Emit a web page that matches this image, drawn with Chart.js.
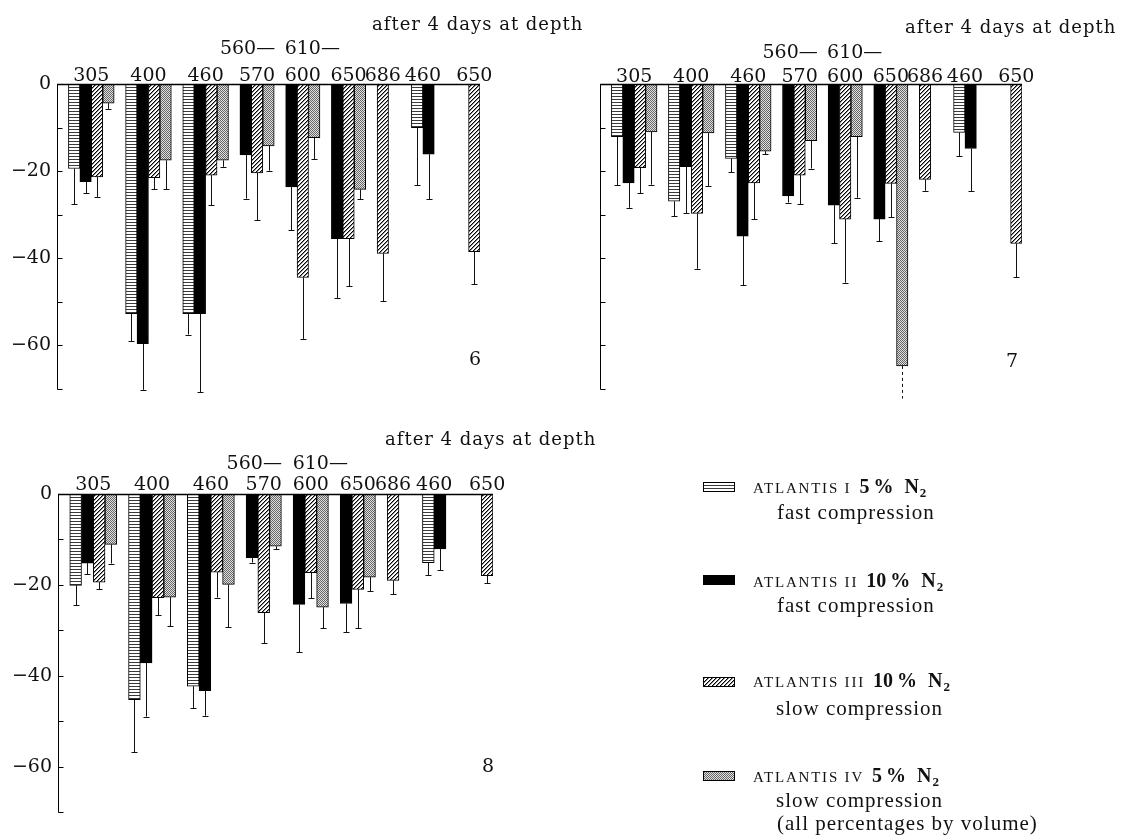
<!DOCTYPE html>
<html><head><meta charset="utf-8">
<script src="https://cdn.jsdelivr.net/npm/chart.js@4.4.1/dist/chart.umd.min.js"></script>
<style>
html,body{margin:0;padding:0;background:#fff;}
body{width:1124px;height:838px;position:relative;overflow:hidden;}
canvas{position:absolute;}
</style></head><body>
<canvas id="c6" width="590" height="400" style="left:0;top:0;width:590px;height:400px"></canvas>
<canvas id="c7" width="534" height="400" style="left:590px;top:0;width:534px;height:400px"></canvas>
<canvas id="c8" width="1124" height="428" style="left:0;top:410px;width:1124px;height:428px"></canvas>
<script>
// ---------- DATA ----------
const depthLabels = ['305','400','460','570','600','650','686','460','650'];
const rangeLabels = ['','','','560\u2014','610\u2014','','','',''];
const seriesNames = ['ATLANTIS I','ATLANTIS II','ATLANTIS III','ATLANTIS IV'];
const seriesGas   = ['5\u2009%','10\u2009%','10\u2009%','5\u2009%'];
const seriesMode  = ['fast compression','fast compression','slow compression','slow compression'];
const footnote = '(all percentages by volume)';
const captionText = 'after 4 days at depth';
const panelNumbers = ['6','7','8'];
const yTickValues = [0,-20,-40,-60];
const yTickLabels = ['0','\u221220','\u221240','\u221260'];

// Figure 6
const fig6_I     = [-19.4,-52.7,-52.7,null,null,null,null,-10.0,null];
const fig6_I_sd  = [8.2,6.3,4.8,null,null,null,null,13.2,null];
const fig6_II    = [-22.4,-59.6,-52.7,-16.3,-23.6,-35.5,null,-16.1,null];
const fig6_II_sd = [2.6,10.6,18.0,10.0,10.0,13.6,null,10.3,null];
const fig6_III   = [-21.3,-21.5,-20.9,-20.4,-44.4,-35.5,-38.9,null,-38.5];
const fig6_III_sd= [4.6,2.6,6.9,10.9,14.1,10.9,11.0,null,7.5];
const fig6_IV    = [-4.4,-17.5,-17.5,-14.2,-12.3,-24.2,null,null,null];
const fig6_IV_sd = [1.3,6.7,1.5,5.7,4.9,2.3,null,null,null];
// Figure 7
const fig7_I     = [-12.1,-26.9,-17.1,null,null,null,null,-11.1,null];
const fig7_I_sd  = [11.1,3.4,3.2,null,null,null,null,5.5,null];
const fig7_II    = [-22.7,-19.0,-34.9,-25.7,-27.8,-31.0,null,-14.8,null];
const fig7_II_sd = [5.7,10.7,11.3,1.5,8.7,5.1,null,9.8,null];
const fig7_III   = [-19.2,-29.7,-22.7,-20.9,-31.0,-22.8,-21.9,null,-36.6];
const fig7_III_sd= [5.9,12.7,8.3,6.7,14.6,7.8,2.6,null,7.8];
const fig7_IV    = [-11.0,-11.2,-15.4,-13.0,-12.1,-64.7,null,null,null];
const fig7_IV_sd = [12.1,12.2,0.7,6.4,14.0,7.5,null,null,null];
const fig7_offscale = [[3,5]]; // [series, group] whose error bar runs off the scale (dashed)
// Figure 8
const fig8_I     = [-20.1,-45.3,-42.3,null,null,null,null,-15.1,null];
const fig8_I_sd  = [4.4,11.6,4.8,null,null,null,null,2.8,null];
const fig8_II    = [-15.2,-37.2,-43.3,-14.0,-24.3,-24.1,null,-12.1,null];
const fig8_II_sd = [2.5,11.8,5.5,1.1,10.5,6.3,null,4.7,null];
const fig8_III   = [-19.4,-22.8,-17.2,-26.1,-17.3,-21.0,-19.0,null,-18.0];
const fig8_III_sd= [1.6,3.9,5.6,6.7,5.6,8.6,3.1,null,1.7];
const fig8_IV    = [-11.1,-22.7,-19.9,-11.5,-24.9,-18.3,null,null,null];
const fig8_IV_sd = [4.2,6.4,9.4,0.7,4.7,3.1,null,null,null];

// ---------- STYLE / LAYOUT ----------
const slotGapBefore = [1,1,1,1,1,1,1,2,3];
const rangeAlign = ['','','','right','left','','','',''];
const SERIF = '"DejaVu Serif"';
const LSERIF = '"Liberation Serif"';

function makePattern(kind){
  const c=document.createElement('canvas'); const g=c.getContext('2d');
  if(kind==='h'){ c.width=4;c.height=3; g.fillStyle='#fff';g.fillRect(0,0,4,3); g.fillStyle='#3a3a3a';g.fillRect(0,0,4,1); }
  else if(kind==='d'){ c.width=4;c.height=4; g.fillStyle='#fff';g.fillRect(0,0,4,4);
    for(let i=0;i<4;i++){ g.fillStyle='#000'; g.fillRect(i,3-i,1,1); g.fillStyle='#888'; g.fillRect((i+1)%4,3-i,1,1);} }
  else { c.width=2;c.height=2; g.fillStyle='#e0e0e0';g.fillRect(0,0,2,2); g.fillStyle='#666'; g.fillRect(0,0,1,1); g.fillRect(1,1,1,1); }
  return document.createElement('canvas').getContext('2d').createPattern(c,'repeat');
}
const fills = [makePattern('h'), '#000', makePattern('d'), makePattern('s')];

function buildPanel(series, sds){
  const labels=[], data=[[],[],[],[]], errs=[[],[],[],[]], groups=[];
  function pushSlot(s,v,e){ labels.push(String(labels.length));
    for(let k=0;k<4;k++){ data[k].push(k===s?v:null); errs[k].push(k===s?e:null); } }
  depthLabels.forEach((lab,g)=>{
    for(let k=0;k<slotGapBefore[g];k++) pushSlot(-1,null,null);
    const first=labels.length; const slotOf={};
    for(let s=0;s<4;s++){ if(series[s][g]!==null){ slotOf[s]=labels.length; pushSlot(s,series[s][g],sds[s][g]); } }
    groups.push({first,last:labels.length-1,slotOf});
  });
  return {labels,data,errs,groups};
}

function decor(p,cfg){
  return { id:'decor_'+cfg.id, afterDraw(chart){
    const ctx=chart.ctx, a=chart.chartArea, x=chart.scales.x, y=chart.scales.y;
    ctx.save();
    ctx.strokeStyle='#000'; ctx.lineWidth=1;
    const lx=Math.round(a.left)+0.5;
    const y0=Math.round(y.getPixelForValue(0))+0.5;
    // zero line & axis
    ctx.lineWidth=1.6;
    ctx.beginPath(); ctx.moveTo(lx-0.5,y0); ctx.lineTo(Math.round(a.right),y0); ctx.stroke();
    ctx.lineWidth=1;
    ctx.beginPath(); ctx.moveTo(lx,y0); ctx.lineTo(lx,Math.round(y.getPixelForValue(-70))+0.5); ctx.stroke();
    for(let v=-10; v>=-70; v-=10){ const ty=Math.round(y.getPixelForValue(v))+0.5;
      ctx.beginPath(); ctx.moveTo(lx,ty); ctx.lineTo(lx+5,ty); ctx.stroke(); }
    // error bars
    ctx.strokeStyle='#111';
    for(let s=0;s<4;s++){
      p.data[s].forEach((v,i)=>{
        const e=p.errs[s][i]; if(v===null||e===null) return;
        const cx=Math.round(x.getPixelForValue(i))+0.5;
        const t=y.getPixelForValue(v), b=y.getPixelForValue(v-e);
        const grp=p.groups.findIndex(G=>G.slotOf[s]===i);
        const dashed=(cfg.offscale||[]).some(o=>o[0]===s&&o[1]===grp);
        ctx.setLineDash(dashed?[3,3]:[]);
        ctx.beginPath(); ctx.moveTo(cx,t); ctx.lineTo(cx,b); ctx.stroke();
        ctx.setLineDash([]);
        if(!dashed){ const by=Math.round(b)+0.5; ctx.beginPath(); ctx.moveTo(cx-3,by); ctx.lineTo(cx+3,by); ctx.stroke(); }
      });
    }
    // group labels
    ctx.fillStyle='#111'; ctx.textBaseline='alphabetic';
    ctx.font='19px '+SERIF;
    p.groups.forEach((G,g)=>{
      const cx=(x.getPixelForValue(G.first)+x.getPixelForValue(G.last))/2;
      ctx.textAlign='center';
      ctx.fillText(depthLabels[g],cx,y0+cfg.depthDy);
      if(rangeLabels[g]){
        const w=ctx.measureText(depthLabels[g]).width;
        if(rangeAlign[g]==='right'){ ctx.textAlign='right'; ctx.fillText(rangeLabels[g],cx+w/2,y0+cfg.rangeDy); }
        else { ctx.textAlign='left'; ctx.fillText(rangeLabels[g],cx-w/2,y0+cfg.rangeDy); }
      }
    });
    // panel number
    ctx.textAlign='center'; ctx.fillText(cfg.num,cfg.numX,cfg.numY);
    // caption
    ctx.textAlign='left'; ctx.font='18px '+SERIF; ctx.letterSpacing='1px';
    ctx.fillText(captionText,cfg.capX,cfg.capY);
    ctx.letterSpacing='0px';
    if(cfg.legend) drawLegend(ctx,cfg.legend);
    ctx.restore();
  }};
}

function drawLegend(ctx,L){
  const oy=L.oy;
  const nameBase=[493,587,687,782], modeBase=[519,612,715,807], sw=[482,575,677,771], modeX=[777,777,776,776];
  for(let s=0;s<4;s++){
    ctx.fillStyle=fills[s]; ctx.fillRect(703,sw[s]-oy,32,10);
    ctx.strokeStyle='#000'; ctx.lineWidth=1; ctx.strokeRect(703.5,sw[s]-oy+0.5,31,9);
    ctx.fillStyle='#111'; ctx.textAlign='left';
    let xx=753; const by=nameBase[s]-oy;
    ctx.font='15px '+LSERIF; ctx.letterSpacing='1.8px';
    ctx.fillText(seriesNames[s],xx,by); xx+=ctx.measureText(seriesNames[s]).width+8;
    ctx.letterSpacing='0px'; ctx.font='bold 20px '+LSERIF;
    ctx.fillText(seriesGas[s],xx,by); xx+=ctx.measureText(seriesGas[s]).width+11;
    ctx.fillText('N',xx,by); xx+=ctx.measureText('N').width+1;
    ctx.font='bold 13px '+LSERIF; ctx.fillText('2',xx,by+4);
    ctx.font='21px '+LSERIF; ctx.letterSpacing='1px';
    ctx.fillText(seriesMode[s],modeX[s],modeBase[s]-oy);
    ctx.letterSpacing='0px';
  }
  ctx.font='21px '+LSERIF; ctx.letterSpacing='1px';
  ctx.fillText(footnote,777,830-oy);
  ctx.letterSpacing='0px';
}

function makeChart(id, series, sds, cfg){
  const p=buildPanel(series,sds);
  return new Chart(document.getElementById(id),{
    type:'bar',
    data:{labels:p.labels, datasets:seriesNames.map((n,s)=>({label:n,data:p.data[s],backgroundColor:fills[s],borderColor:'#000',borderWidth:1,borderSkipped:'start'}))},
    options:{
      responsive:false, animation:false, events:[],
      layout:{padding:cfg.padding},
      datasets:{bar:{grouped:false,categoryPercentage:1,barPercentage:1}},
      plugins:{legend:{display:false},tooltip:{enabled:false}},
      scales:{
        x:{display:false,offset:true},
        y:{min:-70,max:0,
           grid:{display:false,drawTicks:false}, border:{display:false},
           ticks:{display:cfg.showTicks,stepSize:10,padding:6,color:'#111',font:{family:'DejaVu Serif',size:19},
             callback:(v)=>{const k=yTickValues.indexOf(v); return k>=0?yTickLabels[k]:'';}},
           afterFit(s){ s.width=cfg.axisW; s.paddingTop=0; s.paddingBottom=0; }
        }
      }
    },
    plugins:[decor(p,cfg)]
  });
}

makeChart('c6',[fig6_I,fig6_II,fig6_III,fig6_IV],[fig6_I_sd,fig6_II_sd,fig6_III_sd,fig6_IV_sd],
  {id:6,padding:{left:0,top:84,right:110,bottom:11},axisW:57,showTicks:true,depthDy:-4,rangeDy:-31,
   capX:372,capY:30,num:panelNumbers[0],numX:475,numY:365});
makeChart('c7',[fig7_I,fig7_II,fig7_III,fig7_IV],[fig7_I_sd,fig7_II_sd,fig7_III_sd,fig7_IV_sd],
  {id:7,padding:{left:0,top:84,right:102,bottom:11},axisW:10,showTicks:false,depthDy:-3,rangeDy:-27,
   capX:315,capY:33,num:panelNumbers[1],numX:422,numY:367,offscale:fig7_offscale});
makeChart('c8',[fig8_I,fig8_II,fig8_III,fig8_IV],[fig8_I_sd,fig8_II_sd,fig8_III_sd,fig8_IV_sd],
  {id:8,padding:{left:0,top:84,right:631,bottom:26},axisW:58,showTicks:true,depthDy:-5,rangeDy:-26,
   capX:385,capY:35,num:panelNumbers[2],numX:488,numY:362,legend:{oy:410}});
</script>
</body></html>
